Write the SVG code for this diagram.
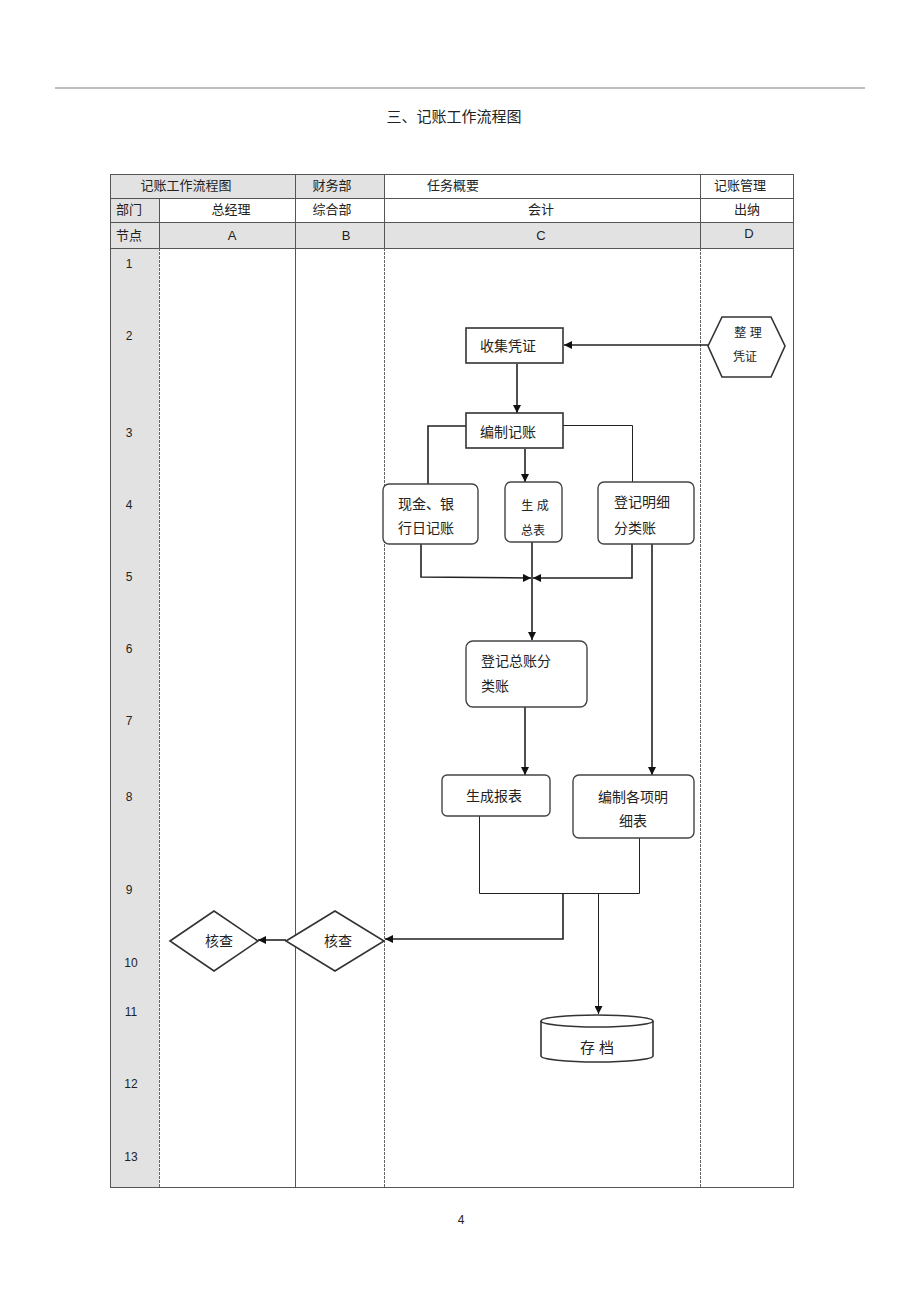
<svg xmlns="http://www.w3.org/2000/svg" width="920" height="1303" viewBox="0 0 920 1303">
<style>
text{font-family:"Liberation Sans","Noto Sans CJK SC",sans-serif;fill:#222;}
.t{font-size:13px;}
.s{font-size:12px;}
.c{text-anchor:middle;}
.grid{stroke:#555;stroke-width:1;fill:none;}
.dash{stroke:#666;stroke-width:1;stroke-dasharray:3 1;fill:none;}
.box{fill:#fff;stroke:#333;stroke-width:1.6;}
.rbox{fill:#fff;stroke:#444;stroke-width:1.4;}
.ln{stroke:#222;stroke-width:1.6;fill:none;}
.tl{stroke:#222;stroke-width:1;fill:none;}
</style>
<defs>
<marker id="ah" viewBox="0 0 10 10" refX="10" refY="5" markerWidth="8" markerHeight="8" markerUnits="userSpaceOnUse" orient="auto">
<path d="M0,0 L10,5 L0,10 z" fill="#111"/>
</marker>
</defs>
<rect width="920" height="1303" fill="#fff"/>
<line x1="55" y1="88" x2="865" y2="88" stroke="#aaa" stroke-width="1.5"/>
<text x="454" y="122" class="c" style="font-size:15px">三、记账工作流程图</text>

<g id="table">
<rect x="110" y="174" width="185" height="24" fill="#e2e2e2"/>
<rect x="295" y="174" width="89" height="24" fill="#e2e2e2"/>
<rect x="110" y="198" width="49" height="24" fill="#e2e2e2"/>
<rect x="110" y="222" width="683" height="26" fill="#e2e2e2"/>
<rect x="110" y="248" width="49" height="939" fill="#e2e2e2"/>
<rect x="110.5" y="174.5" width="683" height="1013" class="grid"/>
<line x1="110" y1="198.5" x2="793" y2="198.5" class="grid"/>
<line x1="110" y1="222.5" x2="793" y2="222.5" class="grid"/>
<line x1="110" y1="248.5" x2="793" y2="248.5" class="grid"/>
<line x1="159.5" y1="198" x2="159.5" y2="248" class="grid"/>
<line x1="295.5" y1="174" x2="295.5" y2="1187" class="grid"/>
<line x1="384.5" y1="174" x2="384.5" y2="248" class="grid"/>
<line x1="700.5" y1="174" x2="700.5" y2="248" class="grid"/>
<line x1="159.5" y1="248" x2="159.5" y2="1187" class="dash"/>
<line x1="384.5" y1="248" x2="384.5" y2="1187" class="dash"/>
<line x1="700.5" y1="248" x2="700.5" y2="1187" class="dash"/>
<text x="186" y="190" class="t c">记账工作流程图</text>
<text x="332" y="190" class="t c">财务部</text>
<text x="453" y="190" class="t c">任务概要</text>
<text x="740" y="190" class="t c">记账管理</text>
<text x="129" y="214" class="t c">部门</text>
<text x="231" y="214" class="t c">总经理</text>
<text x="332" y="214" class="t c">综合部</text>
<text x="541" y="214" class="t c">会计</text>
<text x="747" y="214" class="t c">出纳</text>
<text x="129" y="240" class="t c">节点</text>
<text x="232" y="240" class="t c">A</text>
<text x="346" y="240" class="t c">B</text>
<text x="541" y="240" class="t c">C</text>
<text x="749" y="238" class="t c">D</text>
<text x="129" y="268" class="s c">1</text>
<text x="129" y="340" class="s c">2</text>
<text x="129" y="437" class="s c">3</text>
<text x="129" y="509" class="s c">4</text>
<text x="129" y="581" class="s c">5</text>
<text x="129" y="653" class="s c">6</text>
<text x="129" y="725" class="s c">7</text>
<text x="129" y="801" class="s c">8</text>
<text x="129" y="894" class="s c">9</text>
<text x="131" y="967" class="s c">10</text>
<text x="131" y="1016" class="s c">11</text>
<text x="131" y="1088" class="s c">12</text>
<text x="131" y="1161" class="s c">13</text>
</g>

<g id="connectors">
<line x1="708" y1="345" x2="564" y2="345" class="ln" stroke-width="2" marker-end="url(#ah)"/>
<line x1="517" y1="364" x2="517" y2="413" class="ln" marker-end="url(#ah)"/>
<polyline points="466,426 428,426 428,484" class="ln"/>
<polyline points="563,425.5 632.5,425.5 632.5,482" class="tl"/>
<line x1="525" y1="449" x2="525" y2="482" class="ln" marker-end="url(#ah)"/>
<polyline points="421,544 421,577 531,578" class="ln" marker-end="url(#ah)"/>
<polyline points="632,544 632,578 533,578" class="ln" marker-end="url(#ah)"/>
<line x1="532" y1="542" x2="532" y2="640" class="ln" marker-end="url(#ah)"/>
<line x1="652" y1="544" x2="652" y2="775" class="ln" marker-end="url(#ah)"/>
<line x1="525" y1="707" x2="525" y2="775" class="ln" marker-end="url(#ah)"/>
<polyline points="479.5,816 479.5,893.5 639.5,893.5 639.5,838" class="tl"/>
<polyline points="563,893 563,939 385,939" class="ln" marker-end="url(#ah)"/>
<line x1="598.5" y1="893" x2="598.5" y2="1014" class="tl" marker-end="url(#ah)"/>
<line x1="286" y1="940" x2="258" y2="940" class="ln" marker-end="url(#ah)"/>
</g>

<g id="n-zhengli">
<polygon points="708,346 722,317 771,317 785,346 771,377 722,377" class="box" stroke-width="1.3"/>
<text x="748" y="337" class="s c">整  理</text>
<text x="745" y="361" class="s c">凭证</text>
</g>
<g id="n-shouji">
<rect x="466" y="328" width="97" height="35" class="box"/>
<text x="508" y="351" class="t c" style="font-size:14px">收集凭证</text>
</g>
<g id="n-bianzhi">
<rect x="466" y="413" width="97" height="35" class="box" stroke-width="1.2"/>
<text x="508" y="437" class="t c" style="font-size:14px">编制记账</text>
</g>
<g id="n-xianjin">
<rect x="383" y="484" width="95" height="60" rx="6" class="rbox"/>
<text x="398" y="509" class="t" style="font-size:14px">现金、银</text>
<text x="398" y="533" class="t" style="font-size:14px">行日记账</text>
</g>
<g id="n-zongbiao">
<rect x="505" y="482" width="57" height="60" rx="6" class="rbox"/>
<text x="535" y="510" class="s c">生  成</text>
<text x="533" y="535" class="s c">总表</text>
</g>
<g id="n-mingxi">
<rect x="598" y="482" width="96" height="62" rx="6" class="rbox"/>
<text x="614" y="507" class="t" style="font-size:14px">登记明细</text>
<text x="614" y="533" class="t" style="font-size:14px">分类账</text>
</g>
<g id="n-zongzhang">
<rect x="466" y="641" width="121" height="66" rx="7" class="rbox"/>
<text x="481" y="666" class="t" style="font-size:14px">登记总账分</text>
<text x="481" y="691" class="t" style="font-size:14px">类账</text>
</g>
<g id="n-baobiao">
<rect x="442" y="775" width="108" height="41" rx="5" class="rbox"/>
<text x="494" y="801" class="t c" style="font-size:14px">生成报表</text>
</g>
<g id="n-mingxibiao">
<rect x="573" y="775" width="121" height="63" rx="6" class="rbox"/>
<text x="633" y="802" class="t c" style="font-size:14px">编制各项明</text>
<text x="633" y="826" class="t c" style="font-size:14px">细表</text>
</g>
<g id="n-hecha-b">
<polygon points="286,941 335,911 384,941 335,971" class="box" stroke-width="1.2"/>
<text x="338" y="946" class="t c" style="font-size:14px">核查</text>
</g>
<g id="n-hecha-a">
<polygon points="170,941 214,911 258,941 214,971" class="box" stroke-width="1.2"/>
<text x="219" y="946" class="t c" style="font-size:14px">核查</text>
</g>
<g id="n-cundang">
<path d="M541,1021 L541,1056 A56,6 0 0 0 653,1056 L653,1021" class="box" stroke-width="1.2"/>
<ellipse cx="597" cy="1021" rx="56" ry="6" class="box" stroke-width="1.2"/>
<text x="597" y="1053" class="t c" style="font-size:15px">存  档</text>
</g>
<text x="461" y="1224" class="s c">4</text>
</svg>
